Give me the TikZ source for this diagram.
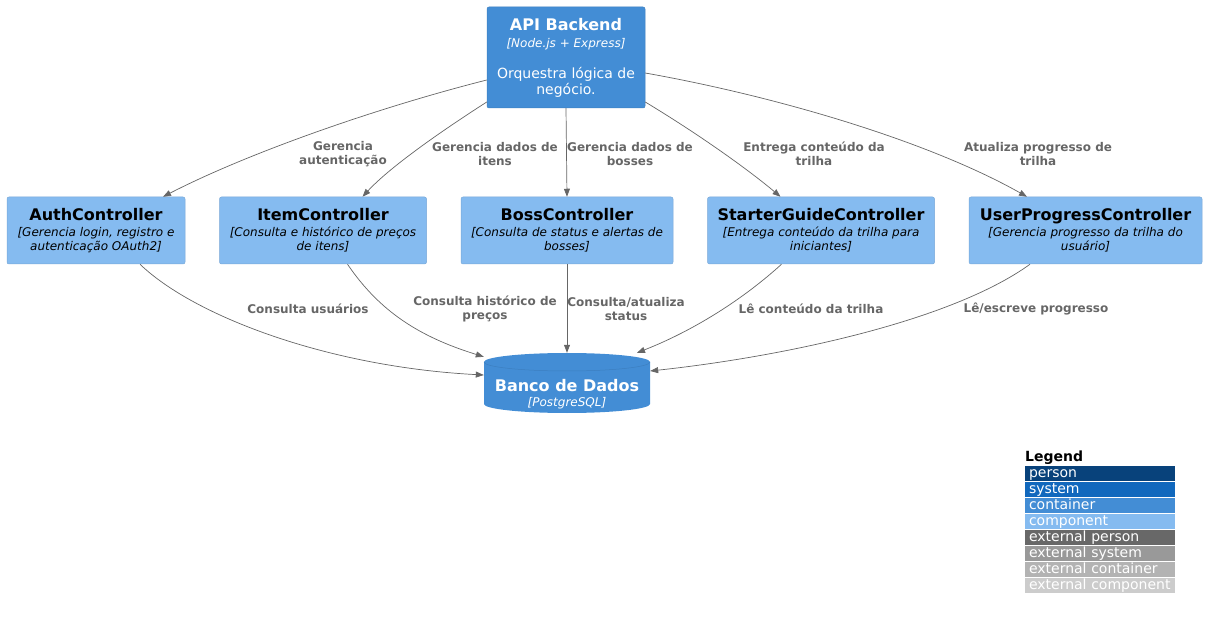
\documentclass[tikz,border=0pt]{standalone}
\usepackage{fontspec}
\setmainfont{DejaVu Sans}
\usetikzlibrary{positioning}
\usetikzlibrary{arrows.meta}

\definecolor{person}{HTML}{08427B}
\definecolor{system}{HTML}{1168BD}
\definecolor{container}{HTML}{438DD5}
\definecolor{component}{HTML}{85BBF0}
\definecolor{extperson}{HTML}{686868}
\definecolor{extsystem}{HTML}{999999}
\definecolor{extcontainer}{HTML}{B3B3B3}
\definecolor{extcomponent}{HTML}{CCCCCC}
\definecolor{relgray}{HTML}{666666}
\definecolor{contedge}{HTML}{3C7FC0}
\definecolor{compedge}{HTML}{78A8D8}

\begin{document}
\begin{tikzpicture}[x=1pt, y=1pt, >={Triangle[length=8pt,width=6pt]},
	cont/.style={rectangle, rounded corners=2pt, fill=container, draw=contedge, line width=0.5pt, text=white, align=center, font=\fontsize{14}{16}\selectfont},
	comp/.style={rectangle, rounded corners=2pt, fill=component, draw=compedge, line width=0.5pt, minimum height=67pt, align=center, font=\fontsize{12}{14}\selectfont},
	rel/.style={->, draw=relgray, line width=0.7pt},
	lbl/.style={text=relgray, align=center, font=\fontsize{12}{14}\selectfont\bfseries},
	legrow/.style={rectangle, inner xsep=4pt, inner ysep=0pt, text height=11pt, text depth=4pt, text width=142pt, align=left, text=white, font=\fontsize{14}{15}\selectfont}]
		\useasboundingbox (0,0) rectangle (1205,622);
		\node (api) [cont, minimum width=158pt, minimum height=101pt] at (566,564.5) {{\fontsize{16}{19}\selectfont\bfseries API Backend}\\[1pt]{\fontsize{12}{14}\selectfont\itshape [Node.js + Express]}\\[15pt]Orquestra lógica de\\negócio.};
		\node (auth) [comp, minimum width=178pt] at (96,391.5) {{\fontsize{16}{19}\selectfont\bfseries AuthController}\\[2pt]{\itshape [Gerencia login, registro e}\\{\itshape autenticação OAuth2]}};
		\node (item) [comp, minimum width=207pt, right=34pt of auth] {{\fontsize{16}{19}\selectfont\bfseries ItemController}\\[2pt]{\itshape [Consulta e histórico de preços}\\{\itshape de itens]}};
		\node (boss) [comp, minimum width=212pt, right=34pt of item] {{\fontsize{16}{19}\selectfont\bfseries BossController}\\[2pt]{\itshape [Consulta de status e alertas de}\\{\itshape bosses]}};
		\node (guide) [comp, minimum width=227pt, right=34pt of boss] {{\fontsize{16}{19}\selectfont\bfseries StarterGuideController}\\[2pt]{\itshape [Entrega conteúdo da trilha para}\\{\itshape iniciantes]}};
		\node (progress) [comp, minimum width=233pt, right=34pt of guide] {{\fontsize{16}{19}\selectfont\bfseries UserProgressController}\\[2pt]{\itshape [Gerencia progresso da trilha do}\\{\itshape usuário]}};
		% database cylinder
		\node (db) [minimum width=166pt, minimum height=60pt, inner sep=0pt] at (567,239) {};
		\fill [container] (484,260) -- (484,218) arc[start angle=180, end angle=360, x radius=83pt, y radius=9pt] -- (650,260) arc[start angle=0, end angle=180, x radius=83pt, y radius=9pt] -- cycle;
		\draw [contedge, line width=0.5pt] (484,260) arc[start angle=180, end angle=360, x radius=83pt, y radius=9pt];
		\node (dbtext) [text=white, align=center, font=\fontsize{12}{14}\selectfont] at (567,228) {{\fontsize{16}{19}\selectfont\bfseries Banco de Dados}\\[1pt]{\itshape [PostgreSQL]}};
		% relations
		\draw [rel] ([yshift=-22.5pt]api.west) .. controls (380,515) and (250,470) .. ([xshift=67pt]auth.north);
		\draw [rel] ([yshift=-44.5pt]api.west) .. controls (440,490) and (390,455) .. ([xshift=39.5pt]item.north);
		\draw [rel] (api.south) -- (boss.north);
		\draw [rel] ([yshift=-44.5pt]api.east) .. controls (695,490) and (745,455) .. ([xshift=-40.5pt]guide.north);
		\draw [rel] ([yshift=-15.5pt]api.east) .. controls (780,525) and (930,480) .. ([xshift=-58.5pt]progress.north);
		\draw [rel] ([xshift=44pt]auth.south) .. controls (195,305) and (330,255) .. ([yshift=8pt]db.west);
		\draw [rel] ([xshift=24.5pt]item.south) .. controls (380,310) and (420,285) .. ([yshift=-4pt]db.north west);
		\draw [rel] (boss.south) -- (boss.south |- db.north);
		\draw [rel] ([xshift=-39.5pt]guide.south) .. controls (740,320) and (690,290) .. ([xshift=70pt]db.north);
		\draw [rel] ([xshift=-55.5pt]progress.south) .. controls (950,300) and (780,265) .. ([yshift=12pt]db.east);
		% relation labels
		\node (l1) [lbl] at (343,468) {Gerencia\\autenticação};
		\node (l2) [lbl] at (495,468) {Gerencia dados de\\itens};
		\node (l3) [lbl] at (630,468) {Gerencia dados de\\bosses};
		\node (l4) [lbl] at (814,468) {Entrega conteúdo da\\trilha};
		\node (l5) [lbl] at (1038,468) {Atualiza progresso de\\trilha};
		\node (l6) [lbl] at (308,313) {Consulta usuários};
		\node (l7) [lbl] at (485,313) {Consulta histórico de\\preços};
		\node (l8) [lbl] at (626,313) {Consulta/atualiza\\status};
		\node (l9) [lbl] at (811,313) {Lê conteúdo da trilha};
		\node (l10) [lbl] at (1036,313) {Lê/escreve progresso};
		% legend
		\node (legend) [anchor=west, inner sep=0pt, font=\fontsize{14}{16}\selectfont\bfseries] at (1025,164) {Legend};
		\foreach \c/\t [count=\i] in {person/person, system/system, container/container, component/component, extperson/external person, extsystem/external system, extcontainer/external container, extcomponent/external component}
			\node (leg\i) [legrow, fill=\c] at (1100,164.5-16*\i) {\t};
\end{tikzpicture}
\end{document}
